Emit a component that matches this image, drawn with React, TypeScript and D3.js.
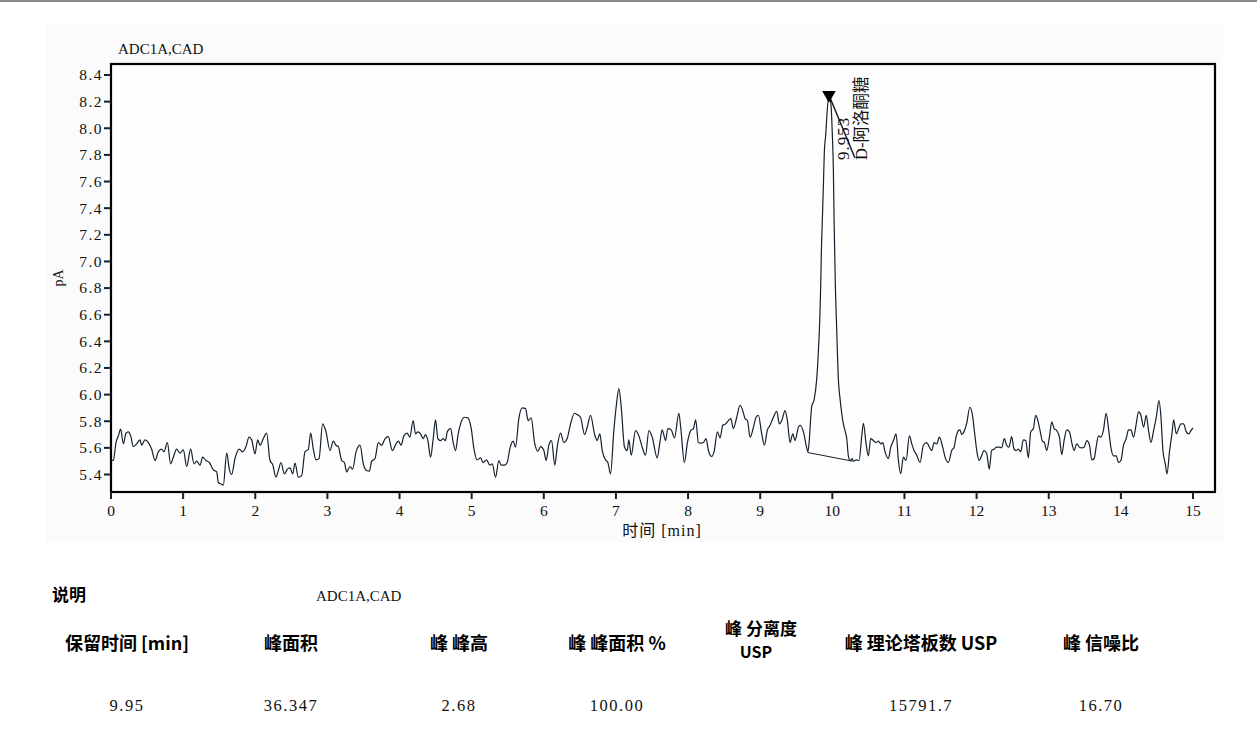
import React from "react";
import * as d3 from "d3";

// ---------- data ----------
const chartTitle = "ADC1A,CAD";
const yLabel = "pA";
const xLabel = "时间 [min]";
const xTicks = [0, 1, 2, 3, 4, 5, 6, 7, 8, 9, 10, 11, 12, 13, 14, 15];
const yTicks = [5.4, 5.6, 5.8, 6.0, 6.2, 6.4, 6.6, 6.8, 7.0, 7.2, 7.4, 7.6, 7.8, 8.0, 8.2, 8.4];

const trace0to4: [number, number][] = [
  [0, 5.51], [0.032, 5.505], [0.069, 5.64], [0.102, 5.69], [0.134, 5.74], [0.171, 5.63], [0.208, 5.71], [0.24, 5.72],
  [0.273, 5.69], [0.31, 5.61], [0.356, 5.63], [0.402, 5.66], [0.425, 5.62], [0.471, 5.66], [0.518, 5.64], [0.564, 5.59],
  [0.61, 5.505], [0.656, 5.57], [0.702, 5.59], [0.735, 5.57], [0.781, 5.64], [0.827, 5.48], [0.864, 5.53], [0.91, 5.59],
  [0.957, 5.56], [1.003, 5.585], [1.049, 5.46], [1.104, 5.59], [1.151, 5.48], [1.188, 5.5], [1.234, 5.47], [1.271, 5.53],
  [1.317, 5.505], [1.363, 5.49], [1.419, 5.435], [1.465, 5.42], [1.488, 5.34], [1.52, 5.33], [1.557, 5.32], [1.604, 5.56],
  [1.64, 5.44], [1.673, 5.4], [1.719, 5.52], [1.779, 5.59], [1.825, 5.57], [1.872, 5.61], [1.913, 5.68], [1.95, 5.66],
  [1.996, 5.555], [2.033, 5.66], [2.066, 5.62], [2.112, 5.67], [2.158, 5.71], [2.204, 5.505], [2.241, 5.475], [2.287, 5.38],
  [2.32, 5.43], [2.357, 5.49], [2.403, 5.405], [2.445, 5.44], [2.482, 5.45], [2.519, 5.405], [2.551, 5.485], [2.597, 5.38],
  [2.643, 5.39], [2.689, 5.57], [2.736, 5.59], [2.768, 5.71], [2.805, 5.59], [2.842, 5.51], [2.884, 5.52], [2.934, 5.78],
  [2.981, 5.72], [3.036, 5.58], [3.082, 5.65], [3.119, 5.62], [3.152, 5.61], [3.198, 5.505], [3.235, 5.49], [3.267, 5.42],
  [3.313, 5.46], [3.35, 5.44], [3.397, 5.57], [3.452, 5.62], [3.498, 5.48], [3.544, 5.43], [3.581, 5.425], [3.614, 5.5],
  [3.66, 5.52], [3.706, 5.64], [3.752, 5.62], [3.799, 5.67], [3.845, 5.685], [3.9, 5.58], [3.951, 5.63], [3.983, 5.65],
];

const trace4to8: [number, number][] = [
  [4.023, 5.62], [4.06, 5.69], [4.106, 5.71], [4.143, 5.68], [4.189, 5.805], [4.222, 5.705], [4.254, 5.72], [4.291, 5.705],
  [4.328, 5.67], [4.36, 5.7], [4.393, 5.655], [4.43, 5.53], [4.467, 5.67], [4.499, 5.81], [4.531, 5.67], [4.568, 5.655],
  [4.605, 5.67], [4.638, 5.655], [4.661, 5.72], [4.707, 5.745], [4.744, 5.64], [4.776, 5.58], [4.813, 5.705], [4.855, 5.795],
  [4.901, 5.83], [4.947, 5.825], [4.994, 5.745], [5.031, 5.595], [5.077, 5.51], [5.123, 5.525], [5.16, 5.49], [5.206, 5.51],
  [5.252, 5.47], [5.285, 5.48], [5.331, 5.38], [5.377, 5.505], [5.409, 5.47], [5.456, 5.47], [5.493, 5.49], [5.53, 5.595],
  [5.576, 5.65], [5.608, 5.605], [5.654, 5.82], [5.701, 5.9], [5.747, 5.895], [5.784, 5.805], [5.825, 5.825], [5.872, 5.64],
  [5.918, 5.575], [5.955, 5.61], [6.001, 5.58], [6.033, 5.505], [6.07, 5.62], [6.107, 5.655], [6.153, 5.47], [6.186, 5.605],
  [6.232, 5.71], [6.278, 5.64], [6.324, 5.67], [6.371, 5.78], [6.426, 5.86], [6.463, 5.85], [6.509, 5.83], [6.565, 5.7],
  [6.602, 5.755], [6.648, 5.845], [6.703, 5.705], [6.74, 5.655], [6.777, 5.705], [6.81, 5.58], [6.856, 5.51], [6.888, 5.49],
  [6.925, 5.405], [6.971, 5.73], [7.008, 5.93], [7.041, 6.045], [7.073, 5.91], [7.119, 5.605], [7.156, 5.58], [7.179, 5.66],
  [7.212, 5.545], [7.272, 5.73], [7.318, 5.69], [7.364, 5.605], [7.41, 5.545], [7.457, 5.73], [7.503, 5.68], [7.572, 5.525],
  [7.609, 5.64], [7.641, 5.735], [7.688, 5.655], [7.72, 5.745], [7.766, 5.735], [7.812, 5.675], [7.872, 5.86],
];

const trace8to12: [number, number][] = [
  [7.898, 5.755], [7.949, 5.49], [7.991, 5.64], [8.037, 5.73], [8.074, 5.745], [8.106, 5.81], [8.143, 5.64], [8.176, 5.635],
  [8.213, 5.64], [8.25, 5.67], [8.282, 5.58], [8.328, 5.535], [8.36, 5.57], [8.407, 5.72], [8.444, 5.675], [8.481, 5.77],
  [8.522, 5.78], [8.559, 5.805], [8.592, 5.82], [8.628, 5.745], [8.675, 5.83], [8.721, 5.92], [8.758, 5.88], [8.79, 5.82],
  [8.823, 5.805], [8.86, 5.68], [8.906, 5.755], [8.943, 5.83], [8.975, 5.845], [9.021, 5.705], [9.058, 5.62], [9.1, 5.735],
  [9.137, 5.77], [9.183, 5.83], [9.229, 5.875], [9.266, 5.78], [9.299, 5.805], [9.345, 5.88], [9.377, 5.805], [9.414, 5.64],
  [9.451, 5.705], [9.483, 5.655], [9.53, 5.755], [9.553, 5.77], [9.599, 5.72], [9.645, 5.6], [9.662, 5.57], [9.681, 5.66],
  [9.7, 5.82], [9.714, 5.91], [9.747, 5.96], [9.784, 6.12], [9.806, 6.32], [9.826, 6.57], [9.839, 6.82], [9.848, 7.07],
  [9.862, 7.32], [9.876, 7.57], [9.889, 7.82], [9.908, 7.95], [9.922, 8.074], [9.953, 8.25], [9.982, 8.17], [10.0, 7.95],
  [10.014, 7.7], [10.024, 7.32], [10.033, 7.07], [10.042, 6.82], [10.056, 6.57], [10.07, 6.32], [10.083, 6.12], [10.107, 5.97],
  [10.13, 5.86], [10.153, 5.78], [10.18, 5.72], [10.2, 5.67], [10.222, 5.54], [10.246, 5.505], [10.277, 5.52], [10.292, 5.5],
  [10.338, 5.51], [10.371, 5.505], [10.408, 5.69], [10.431, 5.785], [10.468, 5.63], [10.5, 5.54], [10.532, 5.67], [10.569, 5.655],
  [10.606, 5.64], [10.639, 5.65], [10.671, 5.63], [10.699, 5.64], [10.731, 5.57], [10.777, 5.52], [10.81, 5.605], [10.847, 5.655],
  [10.884, 5.705], [10.916, 5.505], [10.948, 5.405], [10.985, 5.53], [11.022, 5.505], [11.068, 5.69], [11.101, 5.63], [11.133, 5.58],
  [11.17, 5.545], [11.216, 5.49], [11.262, 5.62], [11.309, 5.64], [11.346, 5.605], [11.378, 5.58], [11.41, 5.64], [11.447, 5.63],
  [11.484, 5.68], [11.53, 5.605], [11.563, 5.53], [11.609, 5.49], [11.655, 5.58], [11.688, 5.605], [11.715, 5.68], [11.748, 5.73],
];

const trace12to15: [number, number][] = [
  [11.769, 5.735], [11.792, 5.7], [11.824, 5.72], [11.861, 5.78], [11.907, 5.905], [11.94, 5.855], [11.977, 5.69], [12.009, 5.555],
  [12.037, 5.505], [12.069, 5.54], [12.102, 5.58], [12.139, 5.56], [12.176, 5.44], [12.208, 5.58], [12.241, 5.59], [12.278, 5.605],
  [12.315, 5.605], [12.347, 5.6], [12.384, 5.67], [12.417, 5.62], [12.449, 5.605], [12.486, 5.685], [12.519, 5.59], [12.546, 5.58],
  [12.579, 5.59], [12.611, 5.57], [12.648, 5.66], [12.681, 5.655], [12.718, 5.525], [12.75, 5.72], [12.787, 5.745], [12.819, 5.845],
  [12.847, 5.81], [12.88, 5.73], [12.912, 5.65], [12.94, 5.64], [12.972, 5.58], [13.009, 5.68], [13.042, 5.795], [13.074, 5.745],
  [13.111, 5.73], [13.148, 5.68], [13.181, 5.55], [13.213, 5.655], [13.25, 5.735], [13.287, 5.72], [13.319, 5.64], [13.352, 5.58],
  [13.389, 5.63], [13.426, 5.605], [13.458, 5.6], [13.491, 5.605], [13.528, 5.655], [13.565, 5.62], [13.597, 5.51], [13.63, 5.52],
  [13.657, 5.605], [13.69, 5.69], [13.722, 5.68], [13.759, 5.735], [13.796, 5.86], [13.829, 5.745], [13.861, 5.605], [13.898, 5.54],
  [13.935, 5.54], [13.968, 5.49], [14.0, 5.505], [14.037, 5.62], [14.074, 5.67], [14.106, 5.735], [14.139, 5.735], [14.176, 5.68],
  [14.213, 5.78], [14.245, 5.87], [14.278, 5.845], [14.315, 5.755], [14.352, 5.845], [14.384, 5.73], [14.417, 5.64], [14.454, 5.73],
  [14.491, 5.83], [14.528, 5.955], [14.556, 5.83], [14.583, 5.58], [14.616, 5.48], [14.639, 5.405], [14.676, 5.58], [14.708, 5.705],
  [14.731, 5.81], [14.769, 5.705], [14.801, 5.745], [14.833, 5.78], [14.87, 5.78], [14.907, 5.72], [14.94, 5.705], [14.972, 5.73],
  [15.0, 5.75],
];

const peakTime = 9.953;
const peakApex = 8.25;
const peakRtLabel = "9.953";
const peakName = "D-阿洛酮糖";
const peakBaseline: [number, number][] = [[9.659, 5.565], [10.28, 5.5]];

const legendLabel = "说明";
const legendChannel = "ADC1A,CAD";
const tableHeaders: string[][] = [
  ["保留时间 [min]"], ["峰面积"], ["峰 峰高"], ["峰 峰面积 %"], ["峰 分离度", "USP"], ["峰 理论塔板数 USP"], ["峰 信噪比"],
];
const tableValues = ["9.95", "36.347", "2.68", "100.00", "", "15791.7", "16.70"];

// ---------- layout ----------
const W = 1257;
const H = 743;
const plotL = 111, plotT = 64, plotR = 1215, plotB = 492;
const colCenters = [127, 291, 459, 617, 761, 921, 1101];
const serif = "'Liberation Serif', 'Noto Sans CJK SC', serif";
const cjkBold = "'Noto Sans CJK SC', 'Noto Sans', sans-serif";
const ink = "#15202e";

export default function App() {
  const x = d3.scaleLinear().domain([0, 15]).range([111, 1193]);
  const y = d3.scaleLinear().domain([5.4, 8.4]).range([474.5, 75]);

  const trace = [...trace0to4, ...trace4to8, ...trace8to12, ...trace12to15];
  const line = d3
    .line<[number, number]>()
    .x((d) => x(d[0]))
    .y((d) => y(d[1]))
    .curve(d3.curveMonotoneX);
  const baseLine = d3
    .line<[number, number]>()
    .x((d) => x(d[0]))
    .y((d) => y(d[1]));

  const ax = x(peakTime);
  const ay = y(peakApex);
  const tri = d3.symbol().type(d3.symbolTriangle).size(80)();
  const fmt = d3.format(".1f");

  return (
    <div style={{ position: "absolute", left: 0, top: 0 }}>
      <svg width={W} height={H} style={{ display: "block", background: "#ffffff" }}>
        <rect x={0} y={0} width={W} height={2} fill="#8a8a8a" />
        <rect x={46} y={25} width={1177} height={517} fill="#fbfbfb" />
        <text x={118} y={54} fontFamily={serif} fontSize={15} fill="#111">
          {chartTitle}
        </text>

        {/* frame */}
        <rect x={plotL} y={plotT} width={plotR - plotL} height={plotB - plotT} fill="#fefefe" stroke="#000" strokeWidth={2.2} />

        {/* y axis ticks */}
        {yTicks.map((t) => (
          <g key={"y" + t}>
            <line x1={plotL - 7} x2={plotL} y1={y(t)} y2={y(t)} stroke={ink} strokeWidth={2} />
            <text x={plotL - 8} y={y(t)} dy="0.35em" textAnchor="end" fontFamily={serif} fontSize={15.5} fill="#111" letterSpacing={1.5}>
              {fmt(t)}
            </text>
          </g>
        ))}
        <text transform={`translate(58,278) rotate(-90)`} textAnchor="middle" dy="0.35em" fontFamily={serif} fontSize={14} fill="#111">
          {yLabel}
        </text>

        {/* x axis ticks */}
        {xTicks.map((t) => (
          <g key={"x" + t}>
            <line x1={x(t)} x2={x(t)} y1={plotB} y2={plotB + 7} stroke={ink} strokeWidth={2} />
            <text x={x(t)} y={516} textAnchor="middle" fontFamily={serif} fontSize={15.5} fill="#111">
              {t}
            </text>
          </g>
        ))}
        <text x={662} y={536} textAnchor="middle" fontFamily={serif} fontSize={16} fill="#111" letterSpacing={1}>
          {xLabel}
        </text>

        {/* trace */}
        <path d={line(trace) || ""} fill="none" stroke={ink} strokeWidth={1.2} strokeLinejoin="round" />
        <path d={baseLine(peakBaseline) || ""} fill="none" stroke={ink} strokeWidth={1} />

        {/* peak annotation */}
        <line x1={ax} y1={ay} x2={ax + 26} y2={ay + 63} stroke={ink} strokeWidth={1.5} />
        <path d={tri || ""} transform={`translate(${ax},${ay}) rotate(180)`} fill="#000" />
        <text transform={`translate(${ax + 14},${ay + 65}) rotate(-90)`} dy="0.35em" fontFamily={serif} fontSize={17} fill="#111" letterSpacing={1}>
          {peakRtLabel}
        </text>
        <text transform={`translate(${ax + 32},${ay + 65}) rotate(-90)`} dy="0.35em" fontFamily={serif} fontSize={16.5} fill="#111">
          {peakName}
        </text>

        {/* legend / table */}
        <text x={52} y={601} fontFamily={cjkBold} fontWeight="bold" fontSize={17} fill="#000">
          {legendLabel}
        </text>
        <text x={316} y={601} fontFamily={serif} fontSize={15} fill="#111">
          {legendChannel}
        </text>
        {tableHeaders.map((lines, i) =>
          lines.length === 1 ? (
            <text key={"h" + i} x={colCenters[i]} y={650} textAnchor="middle" fontFamily={cjkBold} fontWeight="bold" fontSize={18} fill="#000">
              {lines[0]}
            </text>
          ) : (
            <g key={"h" + i}>
              <text x={colCenters[i]} y={635} textAnchor="middle" fontFamily={cjkBold} fontWeight="bold" fontSize={17} fill="#000">
                {lines[0]}
              </text>
              <text x={colCenters[i] - 5} y={658} textAnchor="middle" fontFamily={cjkBold} fontWeight="bold" fontSize={16} fill="#000">
                {lines[1]}
              </text>
            </g>
          )
        )}
        {tableValues.map((v, i) => (
          <text key={"v" + i} x={colCenters[i]} y={711} textAnchor="middle" fontFamily={serif} fontSize={16.5} fill="#111" letterSpacing={1.5}>
            {v}
          </text>
        ))}
      </svg>
    </div>
  );
}
